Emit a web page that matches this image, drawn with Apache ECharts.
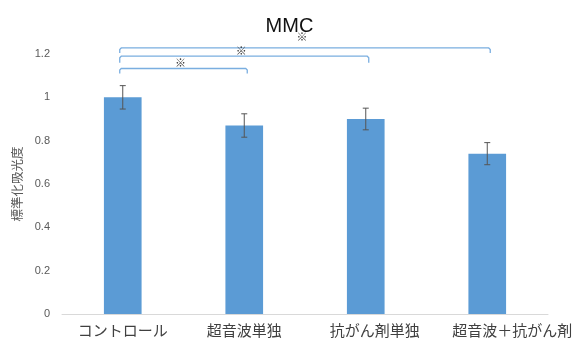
<!DOCTYPE html>
<html><head><meta charset="utf-8">
<script src="https://cdn.jsdelivr.net/npm/echarts@6/dist/echarts.min.js"></script>
<style>html,body{margin:0;padding:0;background:#fff}#c{width:579px;height:351px}</style>
</head><body><div id="c"></div>
<script>
const categories = ['コントロール', '超音波単独', '抗がん剤単独', '超音波＋抗がん剤'];
const values = [1.0, 0.87, 0.9, 0.74];
const errors = [0.054, 0.054, 0.05, 0.051];
const yTicks = [0, 0.2, 0.4, 0.6, 0.8, 1.0, 1.2];
// brackets: [fromCategory, toCategory, lineValue, tickEndValue, starValue]
const brackets = [
  [0, 3, 1.228, 1.205, 1.28],
  [0, 2, 1.19, 1.16, 1.215],
  [0, 1, 1.133, 1.11, 1.16]
];
const labelShift = [0, 0, 18, 50];

const chart = echarts.init(document.getElementById('c'), null, {renderer: 'canvas'});
const errData = values.map((v, i) => [i, v - errors[i], v + errors[i]]);
chart.setOption({
  animation: false,
  title: {
    text: 'MMC', left: 'center', top: 11,
    textStyle: {fontFamily: 'Liberation Sans, Arial, sans-serif', fontSize: 20, fontWeight: 'normal', color: '#111'}
  },
  grid: {left: 62, right: 31, top: 54, bottom: 37},
  xAxis: {
    type: 'category', data: categories,
    axisLine: {lineStyle: {color: '#d9d9d9', width: 1}},
    axisTick: {show: false},
    axisLabel: {
      interval: 0, hideOverlap: false,
      margin: 9,
      fontFamily: 'Noto Sans CJK JP, sans-serif', fontSize: 15, color: '#404040',
      formatter: (val, idx) => '{s' + idx + '|' + val + '}',
      rich: Object.fromEntries(labelShift.map((s, i) => ['s' + i, {padding: [0, 0, 0, s], fontSize: 15, color: '#404040', fontFamily: 'Noto Sans CJK JP, sans-serif'}]))
    }
  },
  yAxis: {
    type: 'value', min: 0, max: 1.2, interval: 0.2,
    name: '標準化吸光度', nameLocation: 'middle', nameGap: 38,
    nameTextStyle: {fontFamily: 'Noto Sans CJK JP, sans-serif', fontSize: 12.5, color: '#595959'},
    axisLine: {show: false}, axisTick: {show: false}, splitLine: {show: false},
    axisLabel: {
      margin: 12, fontFamily: 'Liberation Sans, Arial, sans-serif', fontSize: 11, color: '#595959',
      formatter: v => { const t = yTicks.find(x => Math.abs(x - v) < 1e-6); return t === undefined ? '' : String(Math.round(t * 10) / 10); }
    }
  },
  series: [
    {
      type: 'bar', data: values, barWidth: '31%',
      itemStyle: {color: '#5b9bd5'}
    },
    {
      type: 'custom', data: errData, z: 5,
      renderItem: (params, api) => {
        const x = api.value(0);
        const lo = api.coord([x, api.value(1)]);
        const hi = api.coord([x, api.value(2)]);
        const w = 3;
        return {
          type: 'group',
          children: [
            {type: 'line', shape: {x1: lo[0], y1: lo[1], x2: hi[0], y2: hi[1]}, style: {stroke: '#555', lineWidth: 1}},
            {type: 'line', shape: {x1: lo[0] - w, y1: lo[1], x2: lo[0] + w, y2: lo[1]}, style: {stroke: '#555', lineWidth: 1}},
            {type: 'line', shape: {x1: hi[0] - w, y1: hi[1], x2: hi[0] + w, y2: hi[1]}, style: {stroke: '#555', lineWidth: 1}}
          ]
        };
      }
    },
    {
      type: 'custom', data: brackets, z: 5, clip: false,
      renderItem: (params, api) => {
        const a = api.value(0), b = api.value(1);
        const p1 = api.coord([a, api.value(2)]);
        const p2 = api.coord([b, api.value(2)]);
        const e1 = api.coord([a, api.value(3)]);
        const sy = api.coord([a, api.value(4)])[1];
        const x1 = p1[0] - 3, x2 = p2[0] + 3;
        const sx = (x1 + x2) / 2 - 3;
        return {
          type: 'group',
          children: [
            {type: 'polyline', shape: {points: [[x1, e1[1]], [x1, p1[1] + 1.5], [x1 + 1.5, p1[1]], [x2 - 1.5, p2[1]], [x2, p2[1] + 1.5], [x2, e1[1]]]},
              style: {stroke: '#7aaee0', lineWidth: 1.3, fill: null}},
            {type: 'text', x: sx, y: sy, style: {text: '※', fontSize: 11, fontWeight: 'bold', fill: '#333', align: 'center', verticalAlign: 'middle', fontFamily: 'Noto Sans CJK JP, sans-serif'}}
          ]
        };
      }
    }
  ]
});
</script></body></html>
